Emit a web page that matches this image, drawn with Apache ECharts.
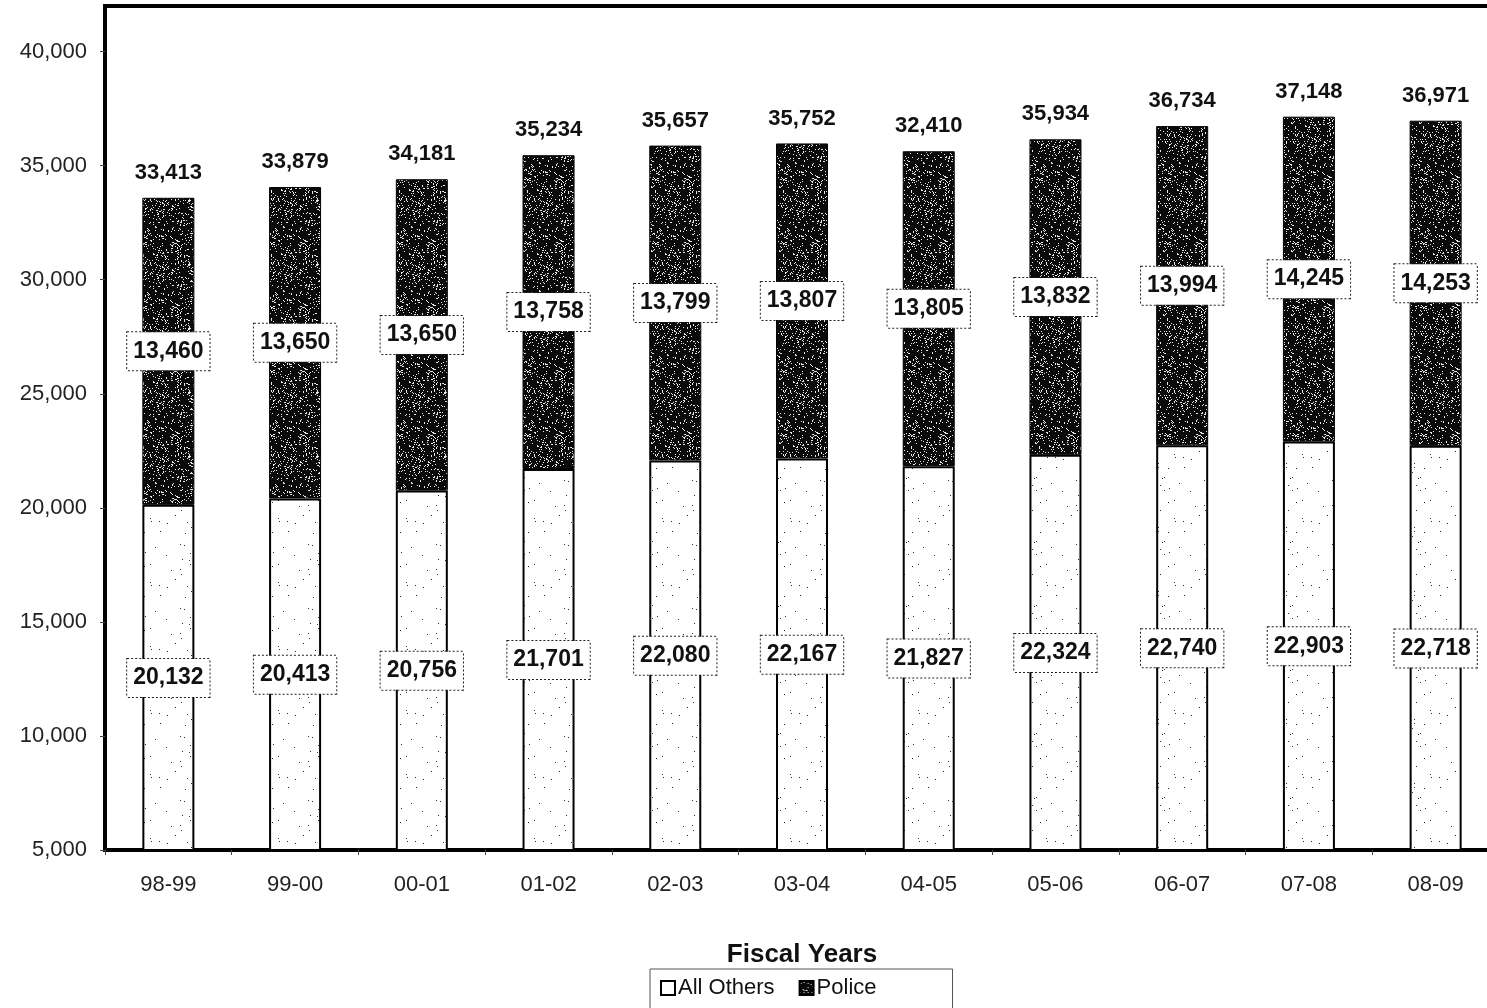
<!DOCTYPE html>
<html>
<head>
<meta charset="utf-8">
<script src="https://cdn.jsdelivr.net/npm/echarts@6/dist/echarts.min.js"></script>
<style>
  html, body { margin: 0; padding: 0; background: #fff; }
  #main { width: 1487px; height: 1008px; }
</style>
</head>
<body>
<div id="main"></div>
<script>
  // data
  const years = ['98-99', '99-00', '00-01', '01-02', '02-03', '03-04', '04-05', '05-06', '06-07', '07-08', '08-09'];
  const allOthers = [20132, 20413, 20756, 21701, 22080, 22167, 21827, 22324, 22740, 22903, 22718];
  const police = [13460, 13650, 13650, 13758, 13799, 13807, 13805, 13832, 13994, 14245, 14253];
  // totals as printed above the bars (not always the sum)
  const totalLabels = [33413, 33879, 34181, 35234, 35657, 35752, 32410, 35934, 36734, 37148, 36971];
  const yTicks = [5000, 10000, 15000, 20000, 25000, 30000, 35000, 40000];

  const stackTops = allOthers.map((v, i) => v + police[i]);

  /* stipple textures (fixed hash, just for the look) */
  function stipple(bg, dot, count, size) {
    const c = document.createElement('canvas');
    c.width = size; c.height = size;
    const ctx = c.getContext('2d');
    ctx.fillStyle = bg;
    ctx.fillRect(0, 0, size, size);
    ctx.fillStyle = dot;
    let s = 0x9e3779b9;
    const next = () => {
      s = (s + 0x6d2b79f5) | 0;
      let t = Math.imul(s ^ (s >>> 15), 1 | s);
      t = (t + Math.imul(t ^ (t >>> 7), 61 | t)) ^ t;
      return ((t ^ (t >>> 14)) >>> 0) / 4294967296;
    };
    for (let k = 0; k < count; k++) {
      ctx.fillRect(Math.floor(next() * size), Math.floor(next() * size), 1, 1);
    }
    return c;
  }
  const darkTex = stipple('#0a0a0a', '#e8e8e8', 520, 64);
  const lightTex = stipple('#ffffff', '#333333', 34, 64);

  const fmt = v => v.toLocaleString('en-US');
  const boxLabel = {
    show: true,
    position: 'inside',
    formatter: p => fmt(p.value),
    fontFamily: 'Liberation Sans',
    fontWeight: 'bold',
    fontSize: 23,
    color: '#111',
    backgroundColor: '#fff',
    borderColor: '#222',
    borderWidth: 1,
    borderType: 'dotted',
    padding: [8, 6, 7, 6]
  };

  const chart = echarts.init(document.getElementById('main'));
  chart.setOption({
    animation: false,
    backgroundColor: '#fff',
    grid: {
      left: 105, top: 6, right: -12, bottom: 158,
      outerBoundsMode: 'none',
      show: true, borderColor: '#000', borderWidth: 4, backgroundColor: 'transparent'
    },
    legend: {
      data: ['All Others', 'Police'],
      left: 650, top: 969,
      itemWidth: 14, itemHeight: 14, itemGap: 24,
      icon: 'rect',
      borderColor: '#555', borderWidth: 1,
      padding: [8, 76, 20, 10],
      textStyle: { fontFamily: 'Liberation Sans', fontSize: 22, color: '#111', padding: [0, 0, 0, -2] }
    },
    xAxis: {
      type: 'category',
      data: years,
      name: 'Fiscal Years',
      nameLocation: 'middle',
      nameGap: 92,
      nameTextStyle: { fontFamily: 'Liberation Sans', fontWeight: 'bold', fontSize: 26, color: '#111' },
      axisLine: { lineStyle: { color: '#000', width: 4 } },
      axisTick: { show: true, length: 5, lineStyle: { color: '#444', width: 1 } },
      axisLabel: { fontFamily: 'Liberation Sans', fontSize: 22, color: '#222', margin: 24 }
    },
    yAxis: {
      type: 'value',
      min: 5000,
      max: 42000,
      interval: 5000,
      splitLine: { show: false },
      axisLine: { show: true, lineStyle: { color: '#000', width: 4 } },
      axisTick: { show: true, length: 5, customValues: yTicks, lineStyle: { color: '#444', width: 1 } },
      axisLabel: {
        customValues: yTicks,
        formatter: v => fmt(v),
        fontFamily: 'Liberation Sans', fontSize: 22, color: '#222', margin: 18
      }
    },
    series: [
      {
        name: 'All Others',
        type: 'bar',
        stack: 'total',
        barWidth: 52,
        data: allOthers,
        itemStyle: { color: { image: lightTex, repeat: 'repeat' }, borderColor: '#000', borderWidth: 2 },
        label: boxLabel
      },
      {
        name: 'Police',
        type: 'bar',
        stack: 'total',
        barWidth: 52,
        data: police,
        itemStyle: { color: { image: darkTex, repeat: 'repeat' }, borderColor: '#000', borderWidth: 1 },
        label: boxLabel
      },
      {
        name: 'Total',
        type: 'scatter',
        data: stackTops,
        symbolSize: 2,
        itemStyle: { color: 'rgba(0,0,0,0)', opacity: 1 },
        label: {
          show: true,
          position: 'top',
          distance: 13,
          formatter: p => fmt(totalLabels[p.dataIndex]),
          fontFamily: 'Liberation Sans',
          fontWeight: 'bold',
          fontSize: 22,
          color: '#111'
        }
      }
    ]
  });
</script>
</body>
</html>
